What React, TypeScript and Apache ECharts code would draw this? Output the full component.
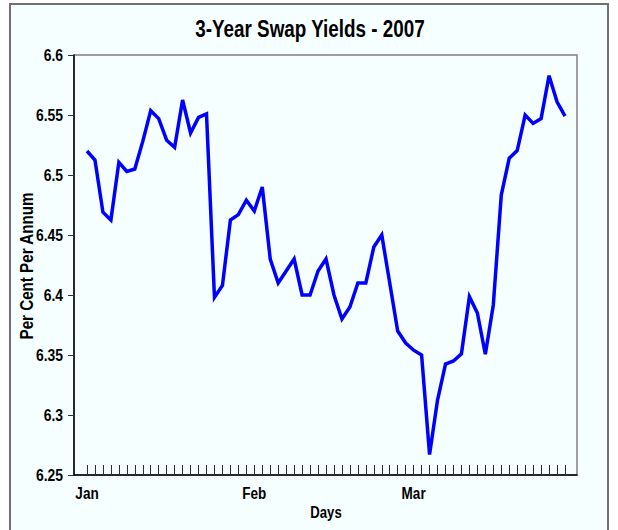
import React, { useEffect, useRef } from "react";
import * as echarts from "echarts";

const titleText = "3-Year Swap Yields - 2007";
const yAxisName = "Per Cent Per Annum";
const xAxisName = "Days";
const monthNames = ["Jan", "Feb", "Mar"];
const monthStartIndex = [0, 21, 41];
const yTicks = [6.25, 6.3, 6.35, 6.4, 6.45, 6.5, 6.55, 6.6];
const yTickLabels = ["6.25", "6.3", "6.35", "6.4", "6.45", "6.5", "6.55", "6.6"];
const yields = [
  6.52, 6.5125, 6.469, 6.4625, 6.5106, 6.503, 6.505, 6.528, 6.5536, 6.547,
  6.529, 6.523, 6.5625, 6.535, 6.548, 6.551, 6.398, 6.408, 6.4625, 6.467,
  6.479, 6.47, 6.49, 6.43, 6.41, 6.42, 6.43, 6.4, 6.4, 6.42,
  6.43, 6.4, 6.38, 6.39, 6.41, 6.41, 6.44, 6.45, 6.41, 6.37,
  6.36, 6.354, 6.35, 6.267, 6.3125, 6.3425, 6.345, 6.351, 6.3986, 6.385,
  6.3506, 6.3917, 6.4833, 6.514, 6.5203, 6.55, 6.543, 6.547, 6.5828, 6.561,
  6.549,
];
const yMin = 6.25;
const yMax = 6.6;
const yStep = 0.05;

const FONT = "'Liberation Sans', Arial, sans-serif";
const NARROW = 0.82;

function label(text: string, x: number, y: number, size: number, align: string, extra: any = {}) {
  return {
    type: "text",
    x,
    y,
    scaleX: NARROW,
    silent: true,
    ...extra,
    style: {
      text,
      fontFamily: FONT,
      fontWeight: "bold",
      fontSize: size,
      fill: "#000",
      align,
      verticalAlign: "middle",
    },
  };
}

export default function App() {
  const ref = useRef<HTMLDivElement>(null);
  useEffect(() => {
    if (!ref.current) return;
    const chart = echarts.init(ref.current, null, { renderer: "svg" });
    const days = yields.map((_, i) => String(i));
    chart.setOption({
      animation: false,
      backgroundColor: "#ffffff",
      grid: [
        {
          left: 74,
          top: 55,
          width: 503,
          height: 420,
          show: true,
          borderColor: "#808080",
          borderWidth: 1.5,
          backgroundColor: "transparent",
        },
        { left: 87, top: 55, width: 478, height: 420 },
      ],
      xAxis: [
        {
          gridIndex: 0,
          type: "value",
          min: 0,
          max: 1,
          axisLine: { show: true, lineStyle: { color: "#000", width: 1.5 } },
          axisTick: { show: false },
          axisLabel: { show: false },
          splitLine: { show: false },
        },
        {
          gridIndex: 1,
          type: "category",
          data: days,
          boundaryGap: false,
          axisLine: { show: false },
          axisTick: {
            show: true,
            inside: true,
            length: 10,
            interval: 0,
            lineStyle: { color: "#303030", width: 1 },
          },
          axisLabel: { show: false },
          splitLine: { show: false },
        },
      ],
      yAxis: [
        {
          gridIndex: 0,
          type: "value",
          min: 0,
          max: 1,
          axisLine: { show: true, lineStyle: { color: "#000", width: 1.5 } },
          axisTick: { show: false },
          axisLabel: { show: false },
          splitLine: { show: false },
        },
        {
          gridIndex: 1,
          type: "value",
          min: yMin,
          max: yMax,
          interval: yStep,
          offset: 13,
          axisLine: { show: false },
          axisTick: { show: true, length: 6, lineStyle: { color: "#303030", width: 1 } },
          axisLabel: { show: false },
          splitLine: { show: false },
        },
      ],
      series: [
        {
          type: "line",
          xAxisIndex: 1,
          yAxisIndex: 1,
          data: yields,
          showSymbol: false,
          symbol: "none",
          lineStyle: { color: "#0000FF", width: 3.5, join: "miter" },
        },
      ],
    });

    const axisX = chart.convertToPixel({ xAxisIndex: 0 }, 0) as number;
    const bottomY = chart.convertToPixel({ yAxisIndex: 1 }, yMin) as number;
    const firstX = chart.convertToPixel({ xAxisIndex: 1 }, 0) as number;
    const lastX = chart.convertToPixel({ xAxisIndex: 1 }, yields.length - 1) as number;
    const graphics: any[] = [
      {
        type: "rect",
        z: -100,
        silent: true,
        shape: { x: 10, y: 4, width: 598, height: 540 },
        style: { fill: "#F5FFFF", stroke: "#707070", lineWidth: 2 },
      },
      label(titleText, 310, 29, 23, "center"),
      label(yAxisName, 27, 266, 18.5, "center", { rotation: Math.PI / 2 }),
      label(xAxisName, (firstX + lastX) / 2, bottomY + 38, 16, "center"),
    ];
    yTicks.forEach((v, i) => {
      const py = chart.convertToPixel({ yAxisIndex: 1 }, v) as number;
      graphics.push(label(yTickLabels[i], axisX - 11, py, 17, "right"));
    });
    monthStartIndex.forEach((idx, k) => {
      const px = chart.convertToPixel({ xAxisIndex: 1 }, idx) as number;
      graphics.push(label(monthNames[k], px, bottomY + 18, 16.5, "center"));
    });
    chart.setOption({ graphic: graphics });
    return () => chart.dispose();
  }, []);
  return (
    <div
      ref={ref}
      style={{ position: "fixed", left: 0, top: 0, width: 618, height: 530 }}
    />
  );
}
